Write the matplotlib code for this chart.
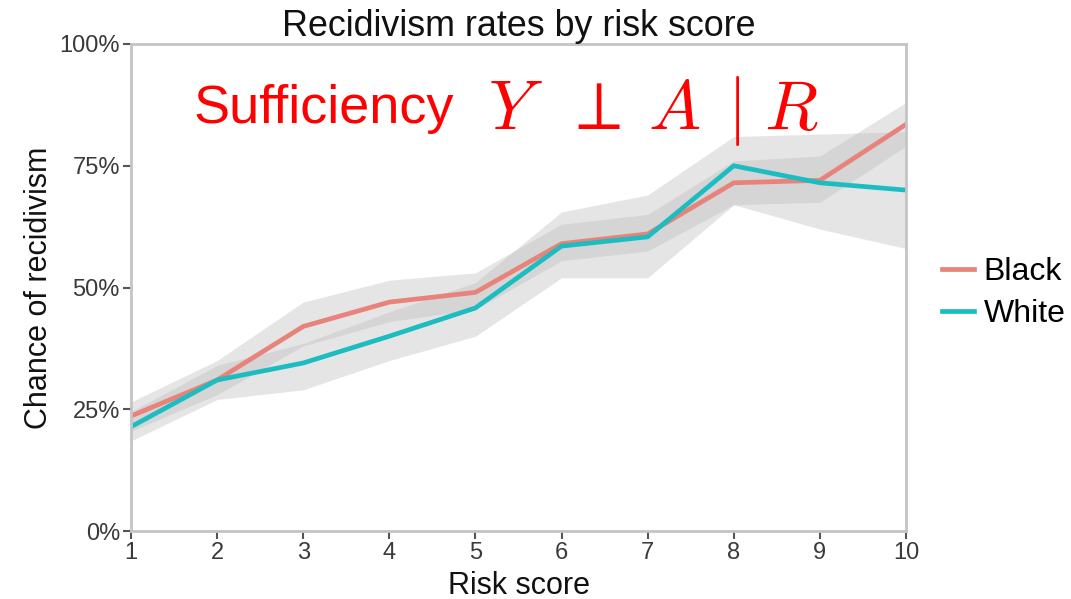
import matplotlib
matplotlib.use("Agg")
import matplotlib.pyplot as plt
from matplotlib.ticker import FuncFormatter

plt.rcParams['font.family'] = ['Liberation Sans', 'DejaVu Sans']
plt.rcParams['mathtext.fontset'] = 'cm'

risk_score = [1, 2, 3, 4, 5, 6, 7, 8, 9, 10]
black_rate = [23.6, 31.0, 42.0, 47.0, 49.0, 59.0, 61.0, 71.5, 72.0, 83.5]
black_lo = [20.5, 28.0, 38.0, 43.0, 45.5, 55.5, 57.5, 67.0, 67.5, 79.0]
black_hi = [26.5, 35.0, 47.0, 51.5, 53.0, 63.0, 65.0, 76.0, 77.0, 88.0]
white_rate = [21.4, 31.0, 34.5, 40.0, 45.8, 58.5, 60.4, 75.0, 71.5, 70.0]
white_lo = [18.5, 27.0, 29.0, 35.0, 40.0, 52.0, 52.0, 67.0, 62.0, 58.0]
white_hi = [24.5, 34.0, 38.5, 45.0, 51.0, 65.5, 69.0, 81.0, 81.5, 82.0]
y_ticks = [0, 25, 50, 75, 100]
formula_parts = [r'$Y$', r'$\perp$', r'$A$', r'$|$', r'$R$']

black_color = '#E8837C'
white_color = '#1CBDC1'

W, H = 1071, 599
fig = plt.figure(figsize=(W / 100, H / 100), dpi=100)
ax = fig.add_axes([131 / W, (H - 531) / H, (906 - 131) / W, (531 - 44) / H])

ax.fill_between(risk_score, white_lo, white_hi, color='#BEBEBE', alpha=0.4, linewidth=0)
ax.fill_between(risk_score, black_lo, black_hi, color='#BEBEBE', alpha=0.4, linewidth=0)
ax.plot(risk_score, black_rate, color=black_color, lw=3.4, label='Black', solid_joinstyle='round')
ax.plot(risk_score, white_rate, color=white_color, lw=3.4, label='White', solid_joinstyle='round')

ax.set_xlim(1, 10)
ax.set_ylim(0, 100)
ax.set_xticks(risk_score)
ax.set_yticks(y_ticks)
ax.yaxis.set_major_formatter(FuncFormatter(lambda v, p: f"{int(v)}%"))
for s in ax.spines.values():
    s.set_color('#C4C4C4')
    s.set_linewidth(2)
ax.tick_params(axis='both', length=6, width=1.5, color='#555555', labelsize=17,
               labelcolor='#3A3A3A', pad=2)

ax.set_title('Recidivism rates by risk score', fontsize=25.8, color='#111111', pad=3)
ax.set_xlabel('Risk score', fontsize=22, color='#111111', labelpad=5)
ax.set_ylabel('Chance of recidivism', fontsize=22, color='#111111', labelpad=4)

leg = ax.legend(loc='center left', bbox_to_anchor=(942 / W, (H - 293) / H),
                bbox_transform=fig.transFigure, frameon=False, borderpad=0, borderaxespad=0,
                fontsize=23, handlelength=1.0, handletextpad=0.3, labelspacing=0.38)

fig.text(193 / W, (H - 123) / H, 'Sufficiency', color='red', fontsize=39, ha='left', va='baseline')
part_x = [488, 562, 648, 727, 764]
for px, part in zip(part_x, formula_parts):
    fig.text(px / W, (H - 129) / H, part, color='red', fontsize=50, ha='left', va='baseline')

fig.savefig('out.png', dpi=100)
